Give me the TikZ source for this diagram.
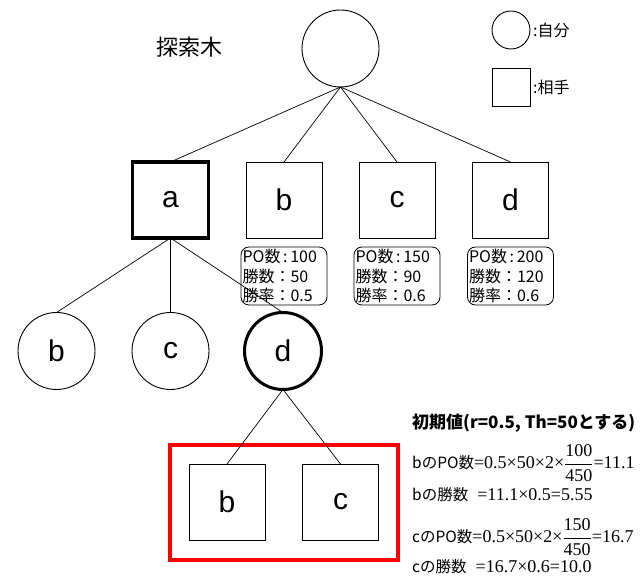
\RequirePackage{fix-cm}
\documentclass[tikz,border=0pt]{standalone}
\usepackage{amsmath}
\usepackage{fontspec}
\setmainfont{Liberation Serif}
\newfontfamily\lsans{Liberation Sans}
\newfontfamily\jp{Noto Sans CJK JP}
\newcommand{\jpl}[1]{{\jp\fontsize{15.5}{15.5}\selectfont #1}}
\newcommand{\tfr}[2]{$\dfrac{\text{#1}}{\text{#2}}$}
\begin{document}
\begin{tikzpicture}[x=1pt,y=-1pt,
  lbl/.style={font=\lsans\fontsize{30}{30}\selectfont},
  me/.style={circle,draw,line width=0.9pt,minimum size=77pt,inner sep=0pt,outer sep=0pt,lbl},
  opp/.style={rectangle,draw,line width=0.9pt,minimum size=76pt,inner sep=0pt,outer sep=0pt,lbl},
  lgme/.style={circle,draw,line width=0.9pt,minimum size=38pt,inner sep=0pt,outer sep=0pt},
  lgopp/.style={rectangle,draw,line width=0.9pt,minimum size=38pt,inner sep=0pt,outer sep=0pt},
  info/.style={draw,rounded corners=8pt,line width=0.8pt,text width=83pt,minimum height=58pt,align=left,inner sep=1.5pt,font=\jp\fontsize{16}{19.5}\selectfont},
  jptext/.style={font=\jp\fontsize{16}{16}\selectfont,inner sep=0pt,anchor=west},
  eqn/.style={font=\fontsize{18}{20}\selectfont,inner sep=0pt,anchor=west},
  edge/.style={line width=0.7pt},
  chosen/.style={line width=3.5pt},
  bigbox/.style={draw=red,line width=4pt}]
\useasboundingbox (0,0) rectangle (641,577);

% title
\node[font=\jp\fontsize{22}{22}\selectfont,inner sep=0pt] (ttl) at (189,47) {探索木};

% legend
\node[lgme] (lgc) at (511,30) {};
\node[jptext] (lgct) at (533,30) {:自分};
\node[lgopp] (lgs) at (511,87) {};
\node[jptext] (lgst) at (533,87) {:相手};

% root
\node[me] (root) at (340.5,48.5) {};

% level 1 squares
\node[opp,chosen] (a1) at (170.5,200) {a};
\node[opp] (b1) at (284,200) {b};
\node[opp] (c1) at (397,200) {c};
\node[opp] (d1) at (510.5,200) {d};

% info boxes
\node[info] (ib) at (284,276) {PO数\,:\,100\\勝数：50\\勝率：0.5};
\node[info] (ic) at (397,276) {PO数\,:\,150\\勝数：90\\勝率：0.6};
\node[info] (id) at (510.5,276) {PO数\,:\,200\\勝数：120\\勝率：0.6};

% level 2 circles
\node[me] (b2) at (56.5,351) {b};
\node[me] (c2) at (170.5,351) {c};
\node[me,line width=3pt] (d2) at (283,351) {d};

% level 3 squares
\node[opp] (b3) at (227,502) {b};
\node[opp] (c3) at (340.5,502) {c};

% red frame
\coordinate (rf1) at (170,445);
\coordinate (rf2) at (398,560);
\draw[bigbox] (rf1) rectangle (rf2);

% edges
\foreach \t in {a1,b1,c1,d1} \draw[edge] (root.south) -- (\t.north);
\foreach \t in {b2,c2,d2} \draw[edge] (a1.south) -- (\t.north);
\foreach \t in {b3,c3} \draw[edge] (d2.south) -- (\t.north);

% explanation
\node[jptext,font=\jp\bfseries\fontsize{17}{17}\selectfont] (init) at (412,423) {初期値(r=0.5, Th=50とする)};
\node[eqn] (e1) at (412,463) {\jpl{bのPO数}=0.5×50×2×\tfr{100}{450}=11.1};
\node[eqn] (e2) at (412,495) {\jpl{bの勝数}\enspace=11.1×0.5=5.55};
\node[eqn] (e3) at (412,537) {\jpl{cのPO数}=0.5×50×2×\tfr{150}{450}=16.7};
\node[eqn] (e4) at (412,567) {\jpl{cの勝数}\enspace=16.7×0.6=10.0};
\end{tikzpicture}
\end{document}
